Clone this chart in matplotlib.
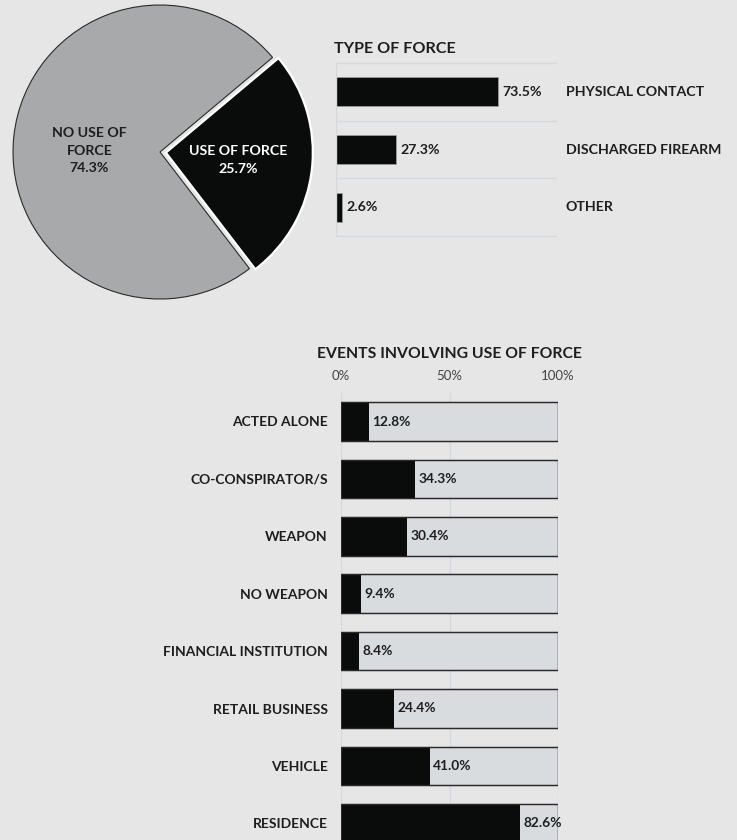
import matplotlib.pyplot as plt

plt.rcParams['font.family'] = ['Lato', 'DejaVu Sans']

W, H = 737, 840
BG = '#e6e6e6'
BLACK = '#0a0c0b'
PIE_GRAY = '#a7a9ab'
LIGHT = '#d9dcdf'
GRID = '#d6d9dc'
TEXT = '#1e1e1e'

# pie data
pie_labels = ['USE OF FORCE', 'NO USE OF\nFORCE']
pie_values = [25.7, 74.3]

# type of force
force_types = ['PHYSICAL CONTACT', 'DISCHARGED FIREARM', 'OTHER']
force_values = [73.5, 27.3, 2.6]

# events involving use of force
events = ['ACTED ALONE', 'CO-CONSPIRATOR/S', 'WEAPON', 'NO WEAPON',
          'FINANCIAL INSTITUTION', 'RETAIL BUSINESS', 'VEHICLE', 'RESIDENCE']
event_values = [12.8, 34.3, 30.4, 9.4, 8.4, 24.4, 41.0, 82.6]
event_ticks = [0, 50, 100]


def px_axes(fig, x0, y0, x1, y1):
    # pixel box (top-left origin) -> figure axes
    return fig.add_axes([x0 / W, 1 - y1 / H, (x1 - x0) / W, (y1 - y0) / H])


fig = plt.figure(figsize=(W / 100, H / 100), dpi=100)
fig.patch.set_facecolor(BG)

# ---- pie ----
R = 147
cx, cy = 160, 152
pad = 1.12
ax = px_axes(fig, cx - R * pad, cy - R * pad, cx + R * pad, cy + R * pad)
ax.set_facecolor('none')
wedges, _ = ax.pie(pie_values, colors=[BLACK, PIE_GRAY], startangle=-52.5,
                   counterclock=True, explode=[0.04, 0], radius=1,
                   wedgeprops=dict(linewidth=0.8))
wedges[0].set_edgecolor('white')
wedges[0].set_linewidth(1.6)
wedges[1].set_edgecolor('#2a2a2a')
ax.set_xlim(-pad, pad)
ax.set_ylim(-pad, pad)
ax.set_aspect('equal')
ax.axis('off')
ax.text(0.53, -0.055, pie_labels[0] + '\n%.1f%%' % pie_values[0], color='white',
        ha='center', va='center', fontsize=10.2, fontweight='bold', linespacing=1.55)
ax.text(-0.48, 0.01, pie_labels[1] + '\n%.1f%%' % pie_values[1], color=TEXT,
        ha='center', va='center', fontsize=10.2, fontweight='bold', linespacing=1.55)

# ---- type of force ----
ax2 = px_axes(fig, 336, 63, 556, 236)
ax2.set_facecolor('none')
ypos = list(range(len(force_types)))
ax2.barh(ypos, force_values, height=0.5, color=BLACK, edgecolor='#9a9a9a', linewidth=0.6)
ax2.set_xlim(0, 100)
ax2.set_ylim(2.5, -0.5)
for y in [-0.5, 0.5, 1.5, 2.5]:
    ax2.axhline(y, color=GRID, lw=1, clip_on=False)
ax2.axvline(0, color=GRID, lw=1)
for y, v, lab in zip(ypos, force_values, force_types):
    ax2.text(v + 2, y, '%.1f%%' % v, ha='left', va='center', fontsize=10.2,
             fontweight='bold', color=TEXT)
    ax2.text(104.5, y, lab, ha='left', va='center', fontsize=10.2,
             fontweight='bold', color=TEXT)
for s in ax2.spines.values():
    s.set_visible(False)
ax2.set_xticks([])
ax2.set_yticks([])
fig.text(334 / W, 1 - 49 / H, 'TYPE OF FORCE', ha='left', va='center',
         fontsize=11.6, fontweight='bold', color=TEXT)

# ---- events involving use of force ----
top, step = 421.5, 57.4
ax3 = px_axes(fig, 341, top - step / 2, 558, H)
ax3.set_facecolor('none')
epos = list(range(len(events)))
ax3.barh(epos, [100] * len(events), height=0.67, color=LIGHT, edgecolor='#2a2a2a',
         linewidth=0.9, zorder=2)
ax3.barh(epos, event_values, height=0.67, color=BLACK, edgecolor='none', zorder=3)
ax3.barh(epos, [100] * len(events), height=0.67, color='none', edgecolor='#2a2a2a',
         linewidth=0.9, zorder=4)
ax3.set_xlim(0, 100)
ax3.set_ylim((H - top) / step, -0.5)
for t in event_ticks:
    ax3.axvline(t, color=GRID, lw=1, zorder=1)
for y, v in zip(epos, event_values):
    ax3.text(v + 1.6, y, '%.1f%%' % v, ha='left', va='center', fontsize=9.9,
             fontweight='bold', color=TEXT, zorder=5, clip_on=False)
ax3.set_yticks(epos)
ax3.set_yticklabels(events, fontsize=10, fontweight='bold', color=TEXT)
ax3.tick_params(axis='y', length=0, pad=9.5)
ax3.xaxis.tick_top()
ax3.set_xticks(event_ticks)
ax3.set_xticklabels(['%d%%' % t for t in event_ticks], fontsize=9.5, color='#444444')
ax3.tick_params(axis='x', length=0, pad=8)
for s in ax3.spines.values():
    s.set_visible(False)
fig.text(449.5 / W, 1 - 354 / H, 'EVENTS INVOLVING USE OF FORCE', ha='center',
         va='center', fontsize=11.3, fontweight='bold', color=TEXT)

fig.savefig('out.png', dpi=100, facecolor=BG)
